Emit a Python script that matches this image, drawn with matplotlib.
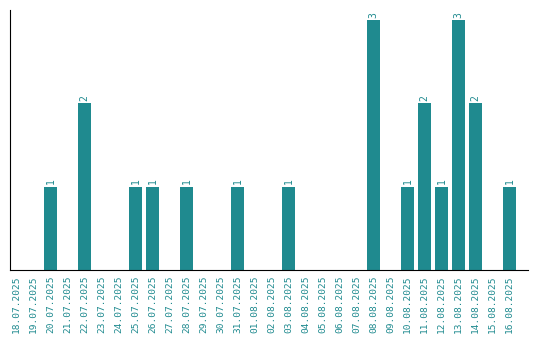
import matplotlib
matplotlib.use("Agg")
import matplotlib.pyplot as plt

dates = ["18.07.2025","19.07.2025","20.07.2025","21.07.2025","22.07.2025","23.07.2025",
         "24.07.2025","25.07.2025","26.07.2025","27.07.2025","28.07.2025","29.07.2025",
         "30.07.2025","31.07.2025","01.08.2025","02.08.2025","03.08.2025","04.08.2025",
         "05.08.2025","06.08.2025","07.08.2025","08.08.2025","09.08.2025","10.08.2025",
         "11.08.2025","12.08.2025","13.08.2025","14.08.2025","15.08.2025","16.08.2025"]
counts = [0,0,1,0,2,0,0,1,1,0,1,0,0,1,0,0,1,0,0,0,0,3,0,1,2,1,3,2,0,1]

color = "#1f8a8f"
plt.rcParams['font.family'] = ['DejaVu Sans Mono']

fig = plt.figure(figsize=(5.4, 3.4), dpi=100)
ax = fig.add_axes([10/540, 1-270/340, 518/540, 260/340])
x = list(range(len(dates)))
bars = ax.bar(x, counts, width=0.78, color=color)
for xi, c in zip(x, counts):
    if c > 0:
        ax.text(xi, c + 0.03, str(c), rotation=90, ha="center", va="bottom",
                fontsize=7, color=color)
ax.set_xlim(-0.38, 30.09)
ax.set_ylim(0, 3.12)
ax.set_xticks(x)
ax.set_xticklabels(dates, rotation=90, fontsize=6.8, color=color)
ax.tick_params(axis="x", length=0, pad=4)
ax.set_yticks([])
ax.spines["top"].set_visible(False)
ax.spines["right"].set_visible(False)
fig.savefig("out.png", dpi=100)
